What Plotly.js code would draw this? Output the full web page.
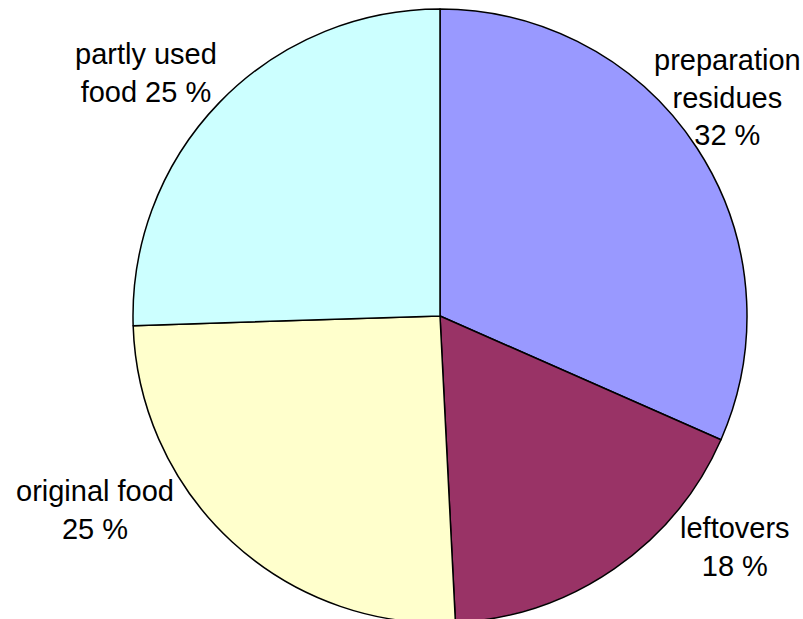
<!DOCTYPE html>
<html>
<head>
<meta charset="utf-8">
<script src="https://cdn.plot.ly/plotly-3.0.1.min.js"></script>
<style>
html, body { margin: 0; padding: 0; overflow: hidden; background: #fff; }
#chart { width: 803px; height: 630px; }
</style>
</head>
<body>
<div id="chart"></div>
<script>
// Data
var categories = ["preparation residues", "leftovers", "original food", "partly used food"];
var shares = [31.6, 17.6, 25.3, 25.5];
var shownPercent = ["32 %", "18 %", "25 %", "25 %"];
var labelText = ["preparation<br>residues<br>", "leftovers<br>", "original food<br>", "partly used<br>food "];
var sliceColors = ["#9999FF", "#993366", "#FFFFCC", "#CCFFFF"];

// label positions (paper coords)
var labelX = [0.9054, 0.9153, 0.1183, 0.1818];
var labelY = [0.846, 0.1317, 0.1905, 0.8841];

var annotations = categories.map(function (c, i) {
  return {
    text: labelText[i] + shownPercent[i],
    x: labelX[i], y: labelY[i], xref: "paper", yref: "paper",
    xanchor: "center", yanchor: "middle", align: "center",
    showarrow: false,
    font: {family: "Liberation Sans, Arial, sans-serif", size: 29, color: "#000"}
  };
});

var trace = {
  type: "pie",
  labels: categories,
  values: shares,
  sort: false,
  direction: "clockwise",
  rotation: 0,
  textinfo: "none",
  hoverinfo: "label+percent",
  marker: {colors: sliceColors, line: {color: "#000", width: 1.5}},
  domain: {x: [133/803, 747/803], y: [7/630, 621/630]}
};

Plotly.newPlot("chart", [trace], {
  width: 803, height: 630,
  margin: {l: 0, r: 0, t: 0, b: 0},
  showlegend: false,
  paper_bgcolor: "#fff",
  annotations: annotations
}, {displayModeBar: false, staticPlot: true});
</script>
</body>
</html>
